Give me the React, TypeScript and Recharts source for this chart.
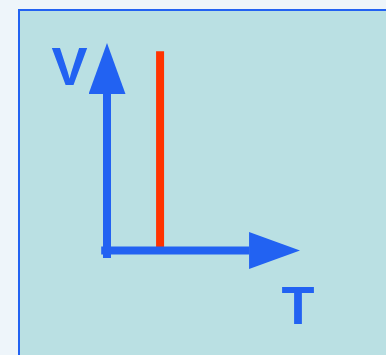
import { LineChart, Line, XAxis, YAxis, ReferenceLine, ReferenceDot } from "recharts";

const BLUE = "#2262f2";
const RED = "#ff3300";

const T_DOMAIN = [0, 10];
const V_DOMAIN = [0, 10];

// isotherm: T stays fixed while V changes
const isotherm = [
  { T: 2.75, V: 0.17 },
  { T: 2.75, V: 9.6 },
];

// axis shafts, the arrow head runs on from the last point to the domain max
const tAxisShaft = [
  { x: -0.3, y: 0 },
  { x: 7.36, y: 0 },
];
const vAxisShaft = [
  { x: 0, y: -0.36 },
  { x: 0, y: 7.54 },
];

const axisLabels = [
  { name: "V", T: -1.94, V: 8.92 },
  { name: "T", T: 9.9, V: -2.63 },
];

export default function App() {
  return (
    <div style={{ position: "relative", width: 386, height: 355, overflow: "hidden", background: "#eef5fa" }}>
      <style>{"body{margin:0}"}</style>
      <svg width={0} height={0} style={{ position: "absolute" }}>
        <defs>
          <marker
            id="arrowHead"
            markerUnits="userSpaceOnUse"
            markerWidth={51}
            markerHeight={37}
            refX={0}
            refY={18.5}
            orient="auto"
          >
            <path d="M0,0 L51,18.5 L0,37 Z" fill={BLUE} />
          </marker>
        </defs>
      </svg>
      <div
        style={{
          position: "absolute",
          left: 18,
          top: 9,
          right: -10,
          bottom: -10,
          background: "#bae0e3",
          borderLeft: `2px solid ${BLUE}`,
          borderTop: `2px solid ${BLUE}`,
        }}
      />
      <div style={{ position: "absolute", left: 0, top: 0 }}>
        <LineChart width={386} height={355} data={isotherm} margin={{ top: 43, right: 86, bottom: 104.5, left: 107 }}>
          <XAxis type="number" dataKey="T" domain={T_DOMAIN} hide />
          <YAxis type="number" domain={V_DOMAIN} hide />
          <Line
            dataKey="V"
            stroke={RED}
            strokeWidth={8}
            strokeLinecap="butt"
            dot={false}
            activeDot={false}
            isAnimationActive={false}
          />
          <ReferenceLine
            segment={tAxisShaft}
            stroke={BLUE}
            strokeWidth={8}
            markerEnd="url(#arrowHead)"
            ifOverflow="visible"
          />
          <ReferenceLine
            segment={vAxisShaft}
            stroke={BLUE}
            strokeWidth={8}
            markerEnd="url(#arrowHead)"
            ifOverflow="visible"
          />
          {axisLabels.map((l) => (
            <ReferenceDot
              key={l.name}
              x={l.T}
              y={l.V}
              r={0}
              stroke="none"
              ifOverflow="visible"
              label={{
                value: l.name,
                position: "center",
                fill: BLUE,
                fontSize: 54,
                fontWeight: "bold",
                fontFamily: "'Liberation Sans', Arial, sans-serif",
              }}
            />
          ))}
        </LineChart>
      </div>
    </div>
  );
}
